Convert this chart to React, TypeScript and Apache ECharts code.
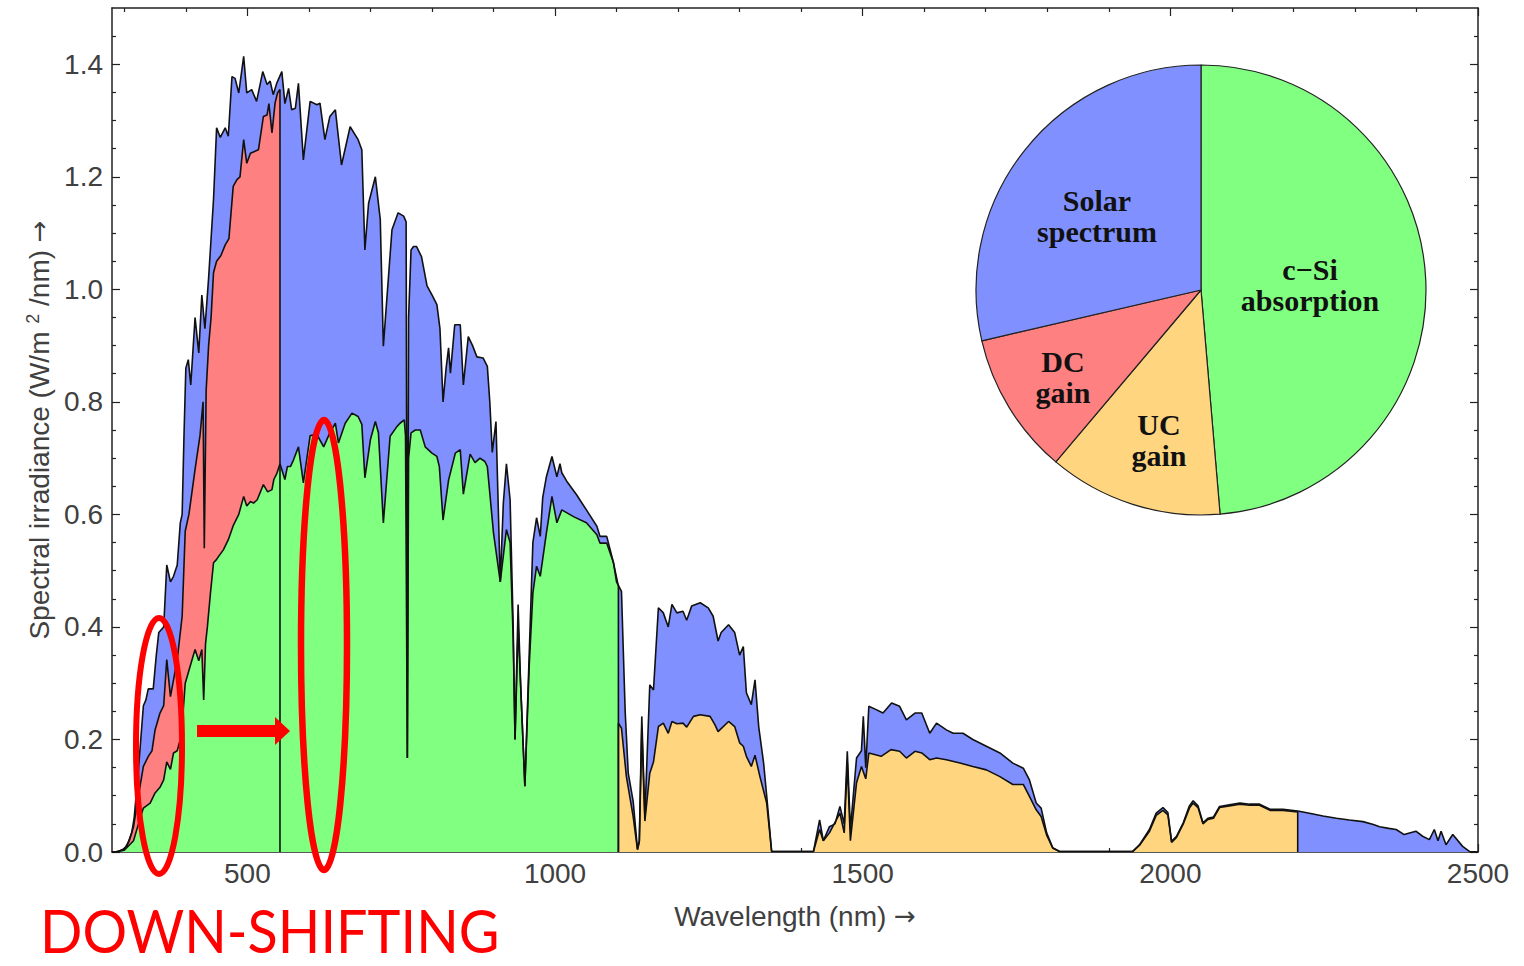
import React, { useEffect, useRef } from 'react';
import * as echarts from 'echarts';

// ---- Spectral data (wavelength nm, W/m^2/nm) ----
const solar: [number, number][] = [
  [280, 0], [285, 0], [292, 0.002], [298, 0.005], [304, 0.01], [312, 0.034], [316, 0.06], [323, 0.147], [331, 0.26], [335, 0.27],
  [339, 0.29], [347, 0.29], [352, 0.35], [356, 0.39], [364, 0.4], [369, 0.51], [375, 0.48], [380, 0.49], [386, 0.51], [391, 0.585],
  [394, 0.6], [397, 0.74], [400, 0.86], [404, 0.875], [408, 0.83], [415, 0.95], [421, 0.887], [426, 0.99], [431, 0.93], [437, 1.02],
  [445, 1.16], [450, 1.287], [456, 1.27], [464, 1.287], [469, 1.272], [475, 1.378], [480, 1.375], [486, 1.349], [494, 1.414], [499, 1.349],
  [507, 1.355], [515, 1.334], [525, 1.387], [532, 1.364], [537, 1.37], [542, 1.346], [548, 1.367], [556, 1.387], [561, 1.33], [567, 1.357],
  [572, 1.319], [578, 1.322], [583, 1.366], [591, 1.23], [602, 1.334], [613, 1.328], [618, 1.331], [626, 1.266], [634, 1.307], [643, 1.319],
  [653, 1.221], [667, 1.289], [680, 1.266], [686, 1.248], [691, 1.07], [697, 1.153], [708, 1.2], [716, 1.124], [721, 0.899], [735, 1.106],
  [745, 1.136], [754, 1.13], [758, 1.12], [760, 0.167], [762, 0.95], [766, 1.07], [770, 1.076], [775, 1.076], [783, 1.058], [792, 1.006],
  [800, 0.99], [808, 0.973], [813, 0.93], [818, 0.8], [823, 0.86], [827, 0.896], [830, 0.851], [837, 0.937], [846, 0.937], [851, 0.83],
  [859, 0.916], [866, 0.9], [873, 0.88], [883, 0.878], [890, 0.863], [894, 0.8], [898, 0.71], [904, 0.765], [911, 0.48], [916, 0.62],
  [921, 0.69], [927, 0.626], [932, 0.4], [935, 0.2], [940, 0.44], [944, 0.3], [951, 0.117], [958, 0.35], [964, 0.55], [970, 0.594],
  [976, 0.561], [980, 0.63], [986, 0.667], [995, 0.703], [1003, 0.667], [1008, 0.69], [1011, 0.674], [1019, 0.659], [1035, 0.635], [1051, 0.608],
  [1068, 0.579], [1073, 0.561], [1084, 0.561], [1095, 0.514], [1100, 0.48], [1108, 0.463], [1114, 0.25], [1119, 0.14], [1127, 0.09], [1134, 0.005],
  [1137, 0.02], [1141, 0.241], [1146, 0.063], [1154, 0.297], [1160, 0.288], [1168, 0.434], [1176, 0.425], [1184, 0.4], [1190, 0.44], [1198, 0.425],
  [1208, 0.428], [1214, 0.412], [1222, 0.437], [1236, 0.443], [1249, 0.434], [1257, 0.419], [1265, 0.375], [1270, 0.39], [1282, 0.404], [1292, 0.39],
  [1300, 0.35], [1306, 0.365], [1311, 0.283], [1319, 0.262], [1325, 0.306], [1331, 0.223], [1339, 0.158], [1344, 0.1], [1352, 0.001], [1420, 0.001],
  [1430, 0.057], [1436, 0.02], [1446, 0.045], [1455, 0.05], [1463, 0.081], [1470, 0.05], [1475, 0.179], [1480, 0.04], [1490, 0.167], [1498, 0.18],
  [1501, 0.241], [1505, 0.15], [1510, 0.259], [1522, 0.253], [1533, 0.247], [1547, 0.265], [1560, 0.259], [1571, 0.235], [1585, 0.247], [1596, 0.247],
  [1609, 0.211], [1620, 0.229], [1636, 0.217], [1647, 0.211], [1663, 0.211], [1679, 0.2], [1701, 0.188], [1723, 0.176], [1744, 0.158], [1761, 0.149],
  [1771, 0.128], [1782, 0.087], [1790, 0.078], [1799, 0.034], [1809, 0.007], [1820, 0.001], [1939, 0.001], [1950, 0.013], [1966, 0.04], [1977, 0.069],
  [1988, 0.079], [1996, 0.07], [2002, 0.019], [2010, 0.028], [2021, 0.052], [2031, 0.082], [2037, 0.091], [2045, 0.082], [2053, 0.052], [2061, 0.06],
  [2070, 0.062], [2080, 0.081], [2096, 0.084], [2113, 0.087], [2129, 0.085], [2145, 0.085], [2162, 0.076], [2183, 0.076], [2207, 0.073], [2226, 0.069],
  [2248, 0.064], [2270, 0.06], [2291, 0.057], [2313, 0.054], [2330, 0.049], [2340, 0.045], [2355, 0.042], [2367, 0.04], [2380, 0.031], [2399, 0.037],
  [2410, 0.028], [2421, 0.022], [2429, 0.04], [2435, 0.02], [2440, 0.037], [2448, 0.013], [2459, 0.031], [2475, 0.01], [2486, 0.001], [2500, 0],
];

const dcGainTop: [number, number][] = [
  [280, 0], [290, 0.001], [300, 0.005], [308, 0.02], [315, 0.045], [323, 0.1], [331, 0.152], [339, 0.17], [345, 0.18], [350, 0.217],
  [358, 0.247], [364, 0.26], [369, 0.342], [375, 0.276], [386, 0.342], [394, 0.419], [399, 0.57], [405, 0.6], [415, 0.68], [423, 0.74],
  [428, 0.8], [430, 0.54], [433, 0.82], [437, 0.9], [441, 0.95], [445, 1.03], [450, 1.05], [457, 1.06], [464, 1.079], [470, 1.09],
  [477, 1.183], [483, 1.195], [488, 1.2], [494, 1.266], [499, 1.224], [505, 1.242], [518, 1.248], [526, 1.307], [532, 1.31], [535, 1.33],
  [540, 1.278], [545, 1.331], [549, 1.349], [553, 1.355], [553, 0],
];

const siAbsorbed: [number, number][] = [
  [280, 0], [290, 0.001], [300, 0.003], [315, 0.02], [323, 0.05], [331, 0.078], [342, 0.087], [350, 0.105], [358, 0.115], [364, 0.128],
  [369, 0.16], [375, 0.147], [380, 0.176], [386, 0.18], [391, 0.2], [395, 0.24], [399, 0.3], [407, 0.33], [415, 0.36], [421, 0.34],
  [426, 0.36], [429, 0.27], [432, 0.37], [435, 0.4], [440, 0.46], [445, 0.514], [450, 0.52], [453, 0.525], [461, 0.537], [469, 0.555],
  [477, 0.58], [486, 0.6], [494, 0.632], [499, 0.615], [505, 0.623], [510, 0.62], [516, 0.626], [526, 0.653], [533, 0.64], [540, 0.644],
  [543, 0.662], [548, 0.673], [553, 0.69], [561, 0.662], [565, 0.685], [570, 0.685], [575, 0.697], [583, 0.72], [591, 0.656], [602, 0.74],
  [613, 0.742], [624, 0.72], [634, 0.745], [643, 0.762], [648, 0.727], [659, 0.762], [670, 0.78], [680, 0.774], [686, 0.76], [691, 0.665],
  [700, 0.733], [708, 0.765], [713, 0.745], [721, 0.585], [732, 0.739], [743, 0.756], [748, 0.762], [755, 0.768], [757, 0.74], [760, 0.167],
  [762, 0.7], [766, 0.745], [773, 0.75], [781, 0.75], [789, 0.72], [800, 0.709], [808, 0.703], [812, 0.685], [818, 0.59], [827, 0.661],
  [838, 0.709], [846, 0.715], [851, 0.636], [862, 0.707], [870, 0.692], [878, 0.7], [886, 0.694], [890, 0.685], [900, 0.567], [911, 0.48],
  [921, 0.573], [927, 0.55], [932, 0.38], [935, 0.2], [940, 0.4], [944, 0.3], [951, 0.117], [958, 0.33], [964, 0.46], [970, 0.508],
  [976, 0.49], [986, 0.567], [995, 0.632], [1003, 0.585], [1011, 0.608], [1030, 0.596], [1051, 0.585], [1068, 0.564], [1073, 0.549], [1084, 0.549],
  [1095, 0.514], [1103, 0.472], [1103, 0],
];

const ucGainTop: [number, number][] = [
  [1103, 0], [1103, 0.229], [1108, 0.22], [1116, 0.134], [1127, 0.063], [1134, 0.004], [1137, 0.018], [1141, 0.22], [1146, 0.055], [1154, 0.14],
  [1160, 0.16], [1168, 0.223], [1176, 0.229], [1184, 0.211], [1190, 0.232], [1198, 0.228], [1208, 0.229], [1214, 0.222], [1225, 0.241], [1236, 0.244],
  [1252, 0.241], [1260, 0.226], [1265, 0.214], [1282, 0.232], [1292, 0.223], [1300, 0.194], [1306, 0.188], [1311, 0.17], [1319, 0.152], [1325, 0.172],
  [1333, 0.134], [1344, 0.087], [1352, 0.001], [1420, 0.001], [1430, 0.04], [1436, 0.02], [1446, 0.034], [1463, 0.069], [1470, 0.034], [1475, 0.158],
  [1480, 0.02], [1490, 0.123], [1498, 0.152], [1505, 0.13], [1510, 0.176], [1530, 0.17], [1546, 0.182], [1560, 0.179], [1571, 0.167], [1585, 0.179],
  [1596, 0.176], [1609, 0.164], [1620, 0.167], [1636, 0.164], [1658, 0.158], [1679, 0.152], [1701, 0.146], [1723, 0.134], [1744, 0.12], [1761, 0.12],
  [1771, 0.099], [1782, 0.075], [1790, 0.063], [1799, 0.03], [1809, 0.007], [1820, 0.001], [1939, 0.001], [1950, 0.012], [1966, 0.037], [1977, 0.065],
  [1988, 0.074], [1996, 0.066], [2002, 0.017], [2010, 0.026], [2021, 0.05], [2031, 0.078], [2037, 0.087], [2045, 0.079], [2053, 0.05], [2061, 0.058],
  [2070, 0.06], [2080, 0.079], [2096, 0.082], [2113, 0.085], [2129, 0.083], [2145, 0.083], [2162, 0.074], [2183, 0.074], [2207, 0.071], [2207, 0],
];

// ---- Pie (share of the spectrum) ----
const pieLabels = ['c\u2212Si\nabsorption', 'UC\ngain', 'DC\ngain', 'Solar\nspectrum'];
const pieValues = [48.6, 12.5, 10.2, 28.6];

// ---- Axis ticks ----
const xMajorTicks = [500, 1000, 1500, 2000, 2500];
const xMinorTicks = [300, 400, 600, 700, 800, 900, 1100, 1200, 1300, 1400, 1600, 1700, 1800, 1900, 2100, 2200, 2300, 2400];
const yMajorTicks = [0, 0.2, 0.4, 0.6, 0.8, 1.0, 1.2, 1.4];
const yMinorTicks = [0.05, 0.1, 0.15, 0.25, 0.3, 0.35, 0.45, 0.5, 0.55, 0.65, 0.7, 0.75, 0.85, 0.9, 0.95, 1.05, 1.1, 1.15, 1.25, 1.3, 1.35, 1.45];

const COLORS = { blue: '#8091ff', red: '#ff8080', green: '#80ff80', yellow: '#ffd580' };
const AXIS = '#222222';
const TXT = '#404040';
const SANS = '"Liberation Sans", Arial, sans-serif';
const SERIF = '"Liberation Serif", "Times New Roman", serif';

export default function App() {
  const ref = useRef<HTMLDivElement>(null);

  useEffect(() => {
    if (!ref.current) return;
    const chart = echarts.init(ref.current, undefined, { renderer: 'svg' });

    const baseX = { type: 'value', min: 280, max: 2500, splitLine: { show: false } };
    const baseY = { type: 'value', min: 0, max: 1.5, splitLine: { show: false } };
    const line = (show: boolean) => ({ show, onZero: false, lineStyle: { color: AXIS, width: 1.5 } });
    const tick = (len: number, vals: number[]) => ({ show: true, inside: true, length: len, customValues: vals, lineStyle: { color: AXIS, width: 1.2 } });

    const areaSeries = (name: string, data: [number, number][], color: string, z: number) => ({
      type: 'line', name, data, symbol: 'none', showSymbol: false, silent: true, z,
      lineStyle: { width: 0 }, areaStyle: { color, opacity: 1 },
    });
    const edgeSeries = (name: string, data: [number, number][]) => ({
      type: 'line', name: name + ' edge', data, symbol: 'none', showSymbol: false, silent: true, z: 10,
      lineStyle: { color: '#111', width: 1.6 },
    });

    const pieText = (text: string, x: number, y: number) => ({
      type: 'text', x, y, z: 50,
      style: { text, font: `bold 30px ${SERIF}`, fill: '#111', textAlign: 'center', textVerticalAlign: 'middle', lineHeight: 31 },
    });

    chart.setOption({
      animation: false,
      backgroundColor: '#ffffff',
      grid: { left: 112, right: 46, top: 8, bottom: 114, containLabel: false, outerBoundsMode: 'none' },
      xAxis: [
        {
          ...baseX, position: 'bottom', axisLine: line(true), axisTick: tick(8, xMajorTicks),
          axisLabel: { customValues: xMajorTicks, margin: 7, fontSize: 28, color: TXT, fontFamily: SANS, formatter: (v: number) => String(v) },
          name: 'Wavelength (nm) {arr|\u2192}', nameLocation: 'middle', nameGap: 50,
          nameTextStyle: {
            fontSize: 28, color: TXT, fontFamily: SANS,
            rich: { arr: { fontSize: 26, color: TXT, fontFamily: '"DejaVu Sans", sans-serif' } },
          },
        },
        { ...baseX, position: 'bottom', axisLine: line(false), axisTick: tick(4, xMinorTicks), axisLabel: { show: false } },
        { ...baseX, position: 'top', axisLine: line(true), axisTick: tick(8, xMajorTicks), axisLabel: { show: false } },
        { ...baseX, position: 'top', axisLine: line(false), axisTick: tick(4, xMinorTicks), axisLabel: { show: false } },
      ],
      yAxis: [
        {
          ...baseY, position: 'left', axisLine: line(true), axisTick: tick(8, yMajorTicks),
          axisLabel: { customValues: yMajorTicks, margin: 9, fontSize: 28, color: TXT, fontFamily: SANS, formatter: (v: number) => v.toFixed(1) },
          name: 'Spectral irradiance (W/m {sup|2} /nm) {arr|\u2192}', nameLocation: 'middle', nameGap: 56,
          nameTextStyle: {
            fontSize: 28, color: TXT, fontFamily: SANS,
            rich: {
              sup: { fontSize: 18, color: TXT, fontFamily: SANS, verticalAlign: 'top', lineHeight: 30 },
              arr: { fontSize: 26, color: TXT, fontFamily: '"DejaVu Sans", sans-serif' },
            },
          },
        },
        { ...baseY, position: 'left', axisLine: line(false), axisTick: tick(4, yMinorTicks), axisLabel: { show: false } },
        { ...baseY, position: 'right', axisLine: line(true), axisTick: tick(8, yMajorTicks), axisLabel: { show: false } },
        { ...baseY, position: 'right', axisLine: line(false), axisTick: tick(4, yMinorTicks), axisLabel: { show: false } },
      ],
      series: [
        areaSeries('Solar spectrum', solar, COLORS.blue, 2),
        areaSeries('DC gain', dcGainTop, COLORS.red, 3),
        areaSeries('c-Si absorption', siAbsorbed, COLORS.green, 4),
        areaSeries('UC gain', ucGainTop, COLORS.yellow, 5),
        edgeSeries('Solar spectrum', solar),
        edgeSeries('DC gain', dcGainTop),
        edgeSeries('c-Si absorption', siAbsorbed),
        edgeSeries('UC gain', ucGainTop),
        {
          type: 'pie', center: [1201, 290], radius: 225, startAngle: 90, clockwise: true, silent: true, z: 20,
          label: { show: false }, labelLine: { show: false },
          itemStyle: { borderColor: '#222', borderWidth: 1.2 },
          data: pieLabels.map((n, i) => ({
            name: n.replace('\n', ' '), value: pieValues[i],
            itemStyle: { color: [COLORS.green, COLORS.yellow, COLORS.red, COLORS.blue][i] },
          })),
        },
      ],
      graphic: [
        pieText(pieLabels[3], 1097, 216),
        pieText(pieLabels[0], 1310, 285),
        pieText(pieLabels[2], 1063, 377),
        pieText(pieLabels[1], 1159, 440),
        { type: 'ellipse', z: 100, shape: { cx: 159, cy: 746, rx: 23, ry: 128 }, style: { fill: 'none', stroke: '#ff0000', lineWidth: 6 } },
        { type: 'ellipse', z: 100, shape: { cx: 324, cy: 645, rx: 23, ry: 225 }, style: { fill: 'none', stroke: '#ff0000', lineWidth: 6.5 } },
        { type: 'rect', z: 100, shape: { x: 197, y: 725, width: 80, height: 12 }, style: { fill: '#ff0000' } },
        { type: 'polygon', z: 100, shape: { points: [[275, 717], [290, 731], [275, 745]] }, style: { fill: '#ff0000' } },
        {
          type: 'text', z: 100, x: 40, y: 930, scaleX: 0.93,
          style: { text: 'DOWN-SHIFTING', font: '60px Lato, "Open Sans", sans-serif', fill: '#ff0000', textAlign: 'left', textVerticalAlign: 'middle', lineHeight: 60 },
        },
      ],
    });

    return () => chart.dispose();
  }, []);

  return <div ref={ref} style={{ position: 'fixed', left: 0, top: 0, width: 1524, height: 966, background: '#fff' }} />;
}
